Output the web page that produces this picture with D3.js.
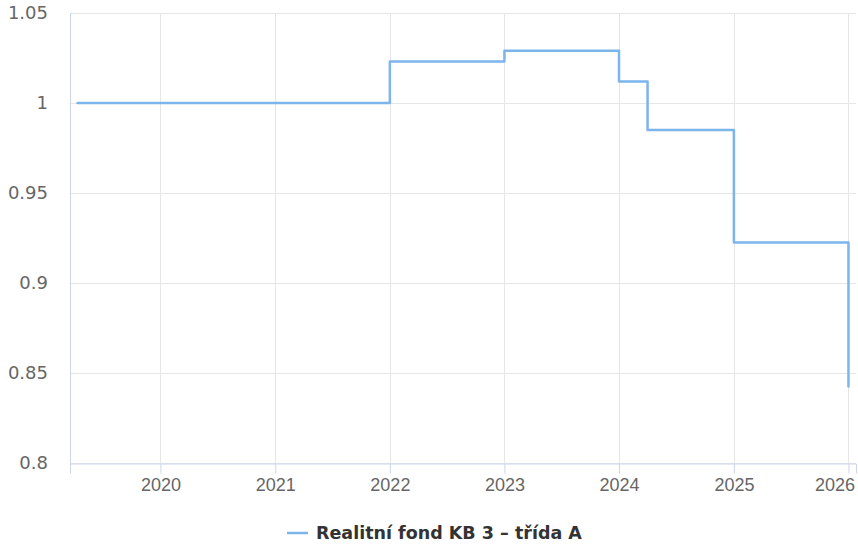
<!DOCTYPE html>
<html lang="cs">
  <head>
    <meta charset="UTF-8" />
    <title>Realitní fond KB 3 – třída A</title>
    <style>
      body {
        margin: 0;
        background-color: #ffffff;
        font-family: "DejaVu Sans", sans-serif;
      }
      .grid line {
        stroke: #e6e6e6;
        stroke-width: 1px;
      }
      .axis-label {
        fill: #666666;
        font-size: 18px;
      }
    </style>
  </head>
  <body>
    <div id="chart"></div>

    <script src="https://d3js.org/d3.v7.min.js"></script>
    <script>
      // Data
      const seriesName = "Realitní fond KB 3 – třída A";
      const dates = ["2019-04-12", "2022-01-01", "2023-01-01", "2024-01-01", "2024-04-01", "2025-01-01", "2026-01-01"];
      const values = [1.0, 1.023, 1.029, 1.012, 0.985, 0.9225, 0.8425];
      const yTicks = [0.8, 0.85, 0.9, 0.95, 1, 1.05];
      const xTickYears = [2020, 2021, 2022, 2023, 2024, 2025, 2026];

      const width = 858;
      const height = 546;
      const margin = { top: 13, right: 2, bottom: 83, left: 70 };

      const parse = d3.utcParse("%Y-%m-%d");
      const data = dates.map((d, i) => ({ date: parse(d), value: values[i] }));

      const svg = d3
        .select("#chart")
        .append("svg")
        .attr("width", width)
        .attr("height", height);

      const x = d3
        .scaleUtc()
        .domain([parse("2019-03-19"), parse("2026-01-25")])
        .range([margin.left, width - margin.right]);

      const y = d3
        .scaleLinear()
        .domain([0.8, 1.05])
        .range([height - margin.bottom, margin.top]);

      const yearDates = xTickYears.map((yr) => new Date(Date.UTC(yr, 0, 1)));

      // horizontal grid lines
      svg
        .append("g")
        .attr("class", "grid")
        .selectAll("line")
        .data(yTicks)
        .join("line")
        .attr("x1", margin.left)
        .attr("x2", width - margin.right)
        .attr("y1", (d) => Math.round(y(d)) + 0.5)
        .attr("y2", (d) => Math.round(y(d)) + 0.5);

      // vertical grid lines
      svg
        .append("g")
        .attr("class", "grid")
        .selectAll("line")
        .data(yearDates)
        .join("line")
        .attr("x1", (d) => Math.round(x(d)) + 0.5)
        .attr("x2", (d) => Math.round(x(d)) + 0.5)
        .attr("y1", margin.top)
        .attr("y2", height - margin.bottom);

      // y axis line
      svg
        .append("line")
        .attr("x1", margin.left + 0.5)
        .attr("x2", margin.left + 0.5)
        .attr("y1", margin.top)
        .attr("y2", height - margin.bottom)
        .attr("stroke", "#ccd6eb");

      // x axis
      const xAxis = d3
        .axisBottom(x)
        .tickValues(yearDates)
        .tickFormat(d3.utcFormat("%Y"))
        .tickSize(10)
        .tickPadding(5);

      const gx = svg
        .append("g")
        .attr("transform", "translate(0," + (Math.round(y(0.8)) + 0.5) + ")")
        .call(xAxis);
      gx.select(".domain").attr("stroke", "#ccd6eb");
      gx.selectAll(".tick line").attr("stroke", "#ccd6eb");
      gx.selectAll(".tick text")
        .attr("class", "axis-label")
        .attr("font-family", null)
        .attr("font-size", null)
        .attr("fill", null);

      // keep the last label inside the chart, like the original
      gx.selectAll(".tick text").each(function () {
        const tick = this.parentNode;
        const tx = +tick.getAttribute("transform").match(/translate\(([\d.]+)/)[1];
        const w = this.getComputedTextLength();
        const overflow = tx + w / 2 - (width - 3);
        if (overflow > 0) d3.select(this).attr("x", -overflow);
      });

      // y axis labels
      svg
        .append("g")
        .selectAll("text")
        .data(yTicks)
        .join("text")
        .attr("class", "axis-label")
        .attr("x", 48)
        .attr("y", (d) => y(d))
        .attr("dy", "0.35em")
        .attr("text-anchor", "end")
        .text((d) => d3.format("~g")(d));

      // the stepped line
      const line = d3
        .line()
        .x((d) => x(d.date))
        .y((d) => y(d.value))
        .curve(d3.curveStepAfter);

      svg
        .append("path")
        .datum(data)
        .attr("fill", "none")
        .attr("stroke", "#7cb5ec")
        .attr("stroke-width", 2.5)
        .attr("stroke-linejoin", "round")
        .attr("stroke-linecap", "round")
        .attr("d", line);

      // legend
      const legend = svg.append("g").attr("transform", "translate(287,533)");
      legend
        .append("line")
        .attr("x1", 0)
        .attr("x2", 21)
        .attr("y1", 0)
        .attr("y2", 0)
        .attr("stroke", "#7cb5ec")
        .attr("stroke-width", 2.5);
      legend
        .append("text")
        .attr("x", 29)
        .attr("y", 0)
        .attr("dy", "0.35em")
        .attr("fill", "#333333")
        .attr("font-size", "17.5px")
        .attr("font-weight", "bold")
        .text(seriesName);
    </script>
  </body>
</html>
